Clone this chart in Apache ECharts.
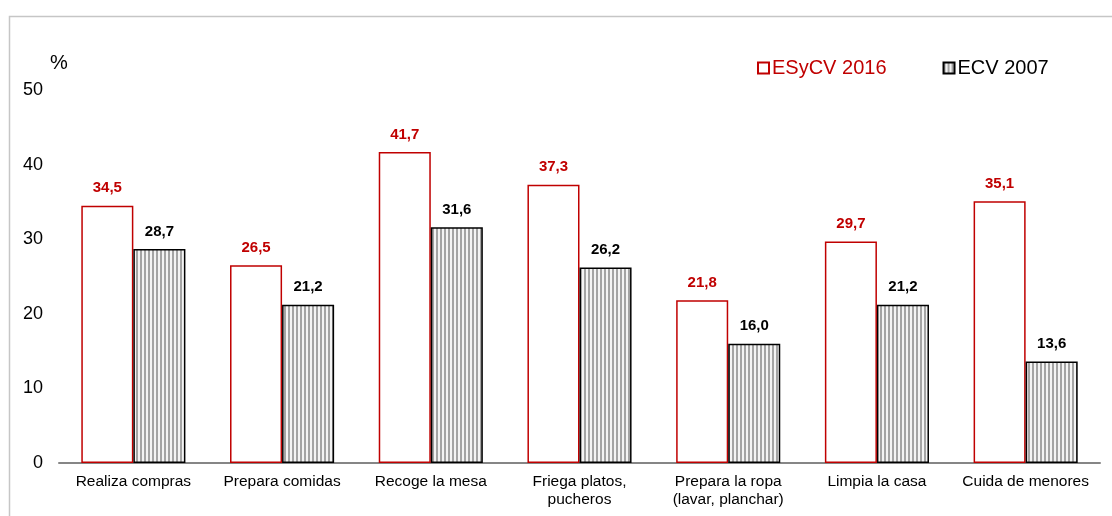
<!DOCTYPE html>
<html>
<head>
<meta charset="utf-8">
<script src="https://cdn.jsdelivr.net/npm/echarts@6/dist/echarts.min.js"></script>
<style>
html,body{margin:0;padding:0;background:#fff;}
#c{width:1112px;height:516px;}
</style>
</head>
<body>
<div id="c"></div>
<script>
const categories = ['Realiza compras','Prepara comidas','Recoge la mesa','Friega platos,\npucheros','Prepara la ropa\n(lavar, planchar)','Limpia la casa','Cuida de menores'];
const esycv2016 = [34.5, 26.5, 41.7, 37.3, 21.8, 29.7, 35.1];
const ecv2007 = [28.7, 21.2, 31.6, 26.2, 16.0, 21.2, 13.6];
const seriesNames = ['ESyCV 2016', 'ECV 2007'];

const pc = document.createElement('canvas');
pc.width = 4; pc.height = 4;
const pctx = pc.getContext('2d');
pctx.fillStyle = '#f4f4f4'; pctx.fillRect(0,0,4,4);
pctx.fillStyle = '#a4a4a4'; pctx.fillRect(0,0,2,4);

const fmt = p => p.value.toFixed(1).replace('.', ',');
const FONT = 'Liberation Sans, Arial, sans-serif';

const chart = echarts.init(document.getElementById('c'), null, {renderer:'canvas'});
chart.setOption({
  animation: false,
  textStyle: {fontFamily: FONT},
  graphic: [{
    type: 'rect', shape: {x: 9.5, y: 16.5, width: 1200, height: 600},
    style: {fill: 'none', stroke: '#c6c6c6', lineWidth: 1.5}, silent: true, z: -10
  }],
  legend: {
    left: 752, top: 53, itemWidth: 11, itemHeight: 11, itemGap: 56,
    icon: 'rect',
    textStyle: {fontSize: 20, fontFamily: FONT, padding: [0,0,0,-2]},
    data: [
      {name: seriesNames[0], textStyle: {color: '#c00000'}},
      {name: seriesNames[1], textStyle: {color: '#000'}}
    ]
  },
  grid: {left: 59, right: 12, top: 90, bottom: 53},
  xAxis: {
    type: 'category', data: categories,
    axisLine: {lineStyle: {color: '#868686', width: 2}},
    axisTick: {show: false},
    axisLabel: {color: '#000', fontSize: 15.5, fontFamily: FONT, margin: 10, lineHeight: 18, interval: 0}
  },
  yAxis: {
    type: 'value', min: 0, max: 50, interval: 10,
    name: '%', nameLocation: 'end', nameGap: 17,
    nameTextStyle: {color: '#000', fontSize: 20, fontFamily: FONT, align: 'center', padding: [0,0,0,0]},
    axisLine: {show: false}, axisTick: {show: false}, splitLine: {show: false},
    axisLabel: {color: '#000', fontSize: 18, fontFamily: FONT, margin: 16}
  },
  series: [
    {
      name: seriesNames[0], type: 'bar', data: esycv2016,
      barGap: '0%', barCategoryGap: '30%',
      itemStyle: {color: '#fff', borderColor: '#c00000', borderWidth: 1.5},
      label: {show: true, position: 'top', distance: 10, formatter: fmt, color: '#c00000', fontWeight: 'bold', fontSize: 15, fontFamily: FONT}
    },
    {
      name: seriesNames[1], type: 'bar', data: ecv2007,
      barGap: '0%', barCategoryGap: '30%',
      itemStyle: {color: {image: pc, repeat: 'repeat'}, borderColor: '#000', borderWidth: 1.5},
      label: {show: true, position: 'top', distance: 10, formatter: fmt, color: '#000', fontWeight: 'bold', fontSize: 15, fontFamily: FONT}
    }
  ]
});
</script>
</body>
</html>
